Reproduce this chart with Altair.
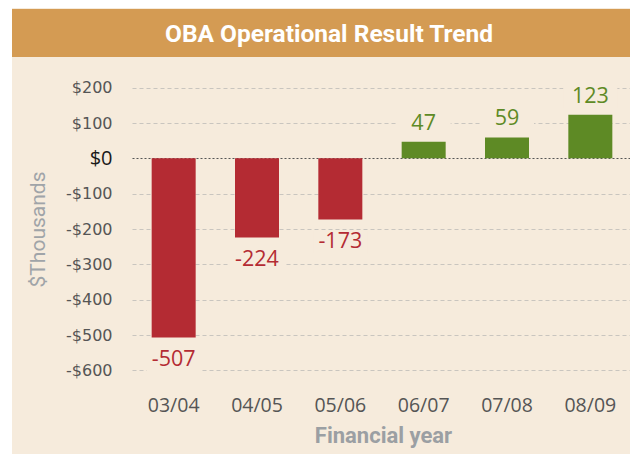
import altair as alt
import pandas as pd

# ---- data ----
years = ["03/04", "04/05", "05/06", "06/07", "07/08", "08/09"]
results = [-507, -224, -173, 47, 59, 123]
y_ticks = [200, 100, 0, -100, -200, -300, -400, -500, -600]
title_text = "OBA Operational Result Trend"

BEIGE = "#F6EBDC"
BANNER = "#D49B53"
RED = "#B42B33"
GREEN = "#5E8A25"

df = pd.DataFrame({"year": years, "value": results})
df["label"] = [str(v) for v in results]
one = pd.DataFrame({"k": [0]})

xscale = alt.Scale(domain=years, range=[5, 505], paddingInner=0.472, paddingOuter=0.236)
yscale = alt.Scale(domain=[-650, 250], nice=False)

is_zero = "datum.value === 0"

y_axis = alt.Axis(
    values=y_ticks,
    labelExpr="(datum.value < 0 ? '-$' : '$') + abs(datum.value)",
    labelFont={"condition": {"test": is_zero, "value": "Open Sans"}, "value": "DejaVu Sans"},
    labelFontSize={"condition": {"test": is_zero, "value": 20}, "value": 16},
    labelColor={"condition": {"test": is_zero, "value": "#1a1a1a"}, "value": "#555555"},
    labelPadding=15,
    ticks=False,
    tickSize=0,
    domain=False,
    grid=True,
    gridColor={"condition": {"test": is_zero, "value": "#555555"}, "value": "#C9C5BF"},
    gridDash={"condition": {"test": is_zero, "value": [2, 2]}, "value": [4, 3]},
    gridWidth=1,
    title="$Thousands",
    titleFont="Roboto",
    titleFontSize=21,
    titleFontWeight="normal",
    titleColor="#A0A4A8",
    titleX=-89,
    titleY=159,
    titleAlign="center",
    titleBaseline="middle",
    titleAngle=-90,
)

x_axis = alt.Axis(
    labelAngle=0,
    labelFont="Open Sans",
    labelFontSize=19.5,
    labelColor="#555555",
    labelBaseline="alphabetic",
    labelPadding=23,
    ticks=False,
    tickSize=0,
    domain=False,
    grid=False,
    title="Financial year",
    titleFont="Roboto",
    titleFontSize=22,
    titleFontWeight="bold",
    titleColor="#9B9FA3",
    titleX=256,
    titleY=54,
    titleAlign="center",
    titleBaseline="alphabetic",
)

sign_color = alt.condition("datum.value < 0", alt.value(RED), alt.value(GREEN))

X = alt.X("year:N", scale=xscale, sort=years, axis=x_axis)

bars = alt.Chart(df).mark_bar().encode(
    x=X,
    y=alt.Y("value:Q", scale=yscale, axis=y_axis),
    y2=alt.datum(0),
    color=sign_color,
)

lab_base = alt.Chart(df).transform_calculate(
    ly="datum.value < 0 ? datum.value - 64 : datum.value + 51"
)

boxes = lab_base.mark_point(
    shape="M-1,-0.41L1,-0.41L1,0.41L-1,0.41Z",
    size=2916,
    filled=True,
    color=BEIGE,
    opacity=1,
    strokeWidth=0,
).encode(
    x=X,
    y=alt.Y("ly:Q", scale=yscale, axis=y_axis),
)

labels = lab_base.mark_text(
    font="Open Sans", fontSize=21.5, baseline="middle", align="center"
).encode(
    x=X,
    y=alt.Y("ly:Q", scale=yscale, axis=y_axis),
    text="label:N",
    color=sign_color,
)

banner = alt.Chart(one).mark_rect(color=BANNER).encode(
    x=alt.value(-115), x2=alt.value(503), y=alt.value(-61), y2=alt.value(-13)
)

strip = alt.Chart(one).mark_rect(color="white").encode(
    x=alt.value(-119), x2=alt.value(-115), y=alt.value(-62), y2=alt.value(384)
)

title = alt.Chart(one).mark_text(
    text=title_text,
    font="Roboto",
    fontSize=24.5,
    fontWeight="bold",
    color="white",
    align="center",
    baseline="alphabetic",
).encode(x=alt.value(202), y=alt.value(-28))

chart = alt.layer(bars, boxes, labels, banner, strip, title).properties(
    width=501,
    height=318,
    padding={"left": 119, "top": 62, "right": 2, "bottom": 66},
    autosize=alt.AutoSizeParams(type="none"),
    background=BEIGE,
).configure_view(stroke=None)

chart.save("out.html", embed_options={"renderer": "svg", "actions": False})
